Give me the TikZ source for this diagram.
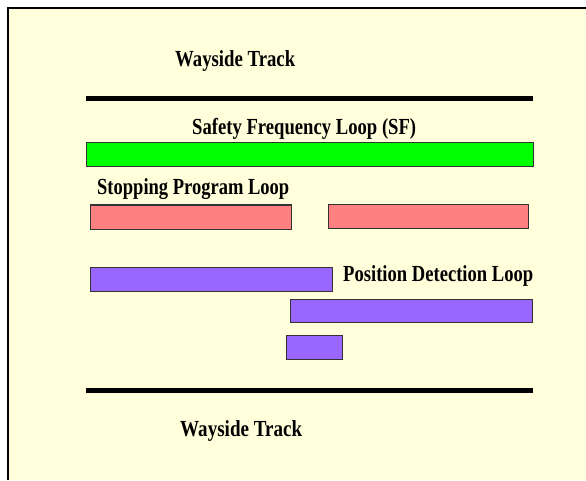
\documentclass[tikz,border=0pt]{standalone}
\usepackage{fontspec}
\setmainfont{Liberation Serif}
\usepackage{graphicx}
\definecolor{bgyellow}{HTML}{FFFFDC}
\definecolor{sfgreen}{HTML}{00FF00}
\definecolor{sppink}{HTML}{FF8080}
\definecolor{pdpurple}{HTML}{9966FF}
\definecolor{edgegray}{HTML}{333333}
\begin{document}
\begin{tikzpicture}[x=1pt,y=1pt,
  loopbar/.style={draw=edgegray, line width=1pt, inner sep=0pt, outer sep=0pt},
  track/.style={line width=5pt, black},
  lbl/.style={anchor=base west, inner sep=0pt, font=\fontsize{23}{23}\selectfont\bfseries}]
\useasboundingbox (0,0) rectangle (586,480);
\fill[white] (0,0) rectangle (586,480);
\fill[bgyellow] (8,0) rectangle (586,472);
\coordinate (fbl) at (8,0);
\coordinate (ftl) at (8,472);
\coordinate (ftr) at (586,472);
\draw[line width=2.5pt] (fbl) -- (ftl) -- (ftr);
% tracks
\coordinate (t1a) at (86,381);
\coordinate (t1b) at (533,381);
\coordinate (t2a) at (86,89.5);
\coordinate (t2b) at (533,89.5);
\draw[track] (t1a) -- (t1b);
\draw[track] (t2a) -- (t2b);
% loops
\node[loopbar, fill=sfgreen, minimum width=447pt, minimum height=24pt] (sf) at (309.5,325) {};
\node[loopbar, fill=sppink, minimum width=201pt, minimum height=24pt] (sp1) at (190.5,263) {};
\node[loopbar, fill=sppink, minimum width=200pt, minimum height=23pt] (sp2) at (428,263.5) {};
\node[loopbar, fill=pdpurple, minimum width=242pt, minimum height=24pt] (pd1) at (211,201) {};
\node[loopbar, fill=pdpurple, minimum width=242pt, minimum height=23pt] (pd2) at (411,169.5) {};
\node[loopbar, fill=pdpurple, minimum width=56pt, minimum height=24pt] (pd3) at (314,133) {};
% labels
\node[lbl] (w1) at (175,413) {\resizebox{120pt}{\height}{Wayside Track}};
\node[lbl] (sfl) at (192,345) {\resizebox{224pt}{\height}{Safety Frequency Loop (SF)}};
\node[lbl] (spl) at (97,285) {\resizebox{192pt}{\height}{Stopping Program Loop}};
\node[lbl] (pdl) at (343,199) {\resizebox{190pt}{\height}{Position Detection Loop}};
\node[lbl] (w2) at (180,44) {\resizebox{122pt}{\height}{Wayside Track}};
\end{tikzpicture}
\end{document}
